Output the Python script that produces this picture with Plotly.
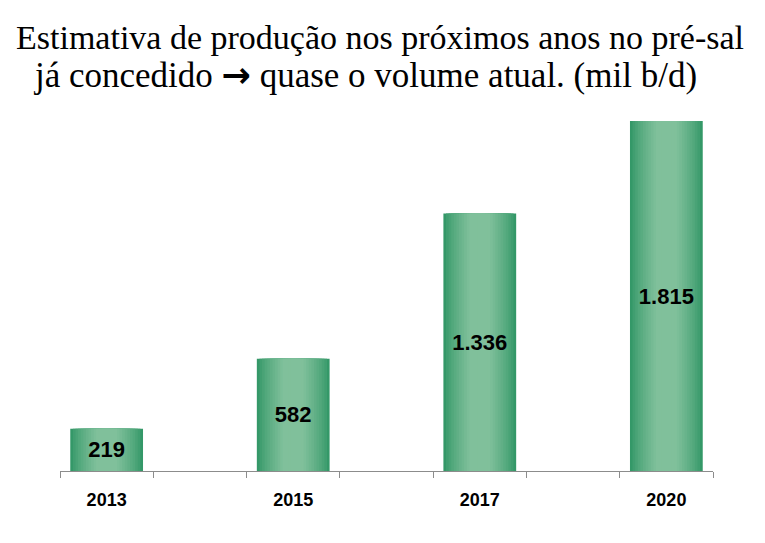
import plotly.graph_objects as go

# categories on the axis (empty slots keep the spacing between years)
slots = ["2013", " ", "2015", "  ", "2017", "   ", "2020"]
years = ["2013", "2015", "2017", "2020"]
production = [219, 582, 1336, 1815]
value_labels = ["219", "582", "1.336", "1.815"]

title_line1 = "Estimativa de produção nos próximos anos no pré-sal"
title_line2 = ("já concedido <span style='font-family:DejaVu Sans;font-weight:bold'>→</span>"
               " quase o volume atual. (mil b/d)")

dark = (52, 152, 104)
light = (128, 192, 155)


def mix(t):
    r, g, b = [round(d + (l - d) * t) for d, l in zip(dark, light)]
    return f"rgb({r},{g},{b})"


fig = go.Figure()

# fake a horizontal gradient by stacking narrower and lighter bars
n_layers = 14
bar_width = 0.78
for k in range(n_layers):
    p = k / (n_layers - 1)
    t = min(1.0, p / 0.75) ** 0.8
    fig.add_trace(go.Bar(
        x=years,
        y=production,
        width=bar_width * (1 - k / n_layers),
        marker=dict(color=mix(t), line=dict(width=0)),
        hoverinfo="skip",
        showlegend=False,
    ))

fig.add_trace(go.Bar(
    x=years,
    y=production,
    width=bar_width,
    marker=dict(color="rgba(0,0,0,0)", line=dict(width=0)),
    text=value_labels,
    textposition="inside",
    insidetextanchor="middle",
    constraintext="none",
    textfont=dict(family="Liberation Sans", size=22, color="black", weight="bold"),
    showlegend=False,
))

# page body adds 8px, so the margins are shifted by that
fig.update_layout(
    barmode="overlay",
    width=765,
    height=543,
    margin=dict(l=52, r=60, t=92, b=80),
    plot_bgcolor="white",
    paper_bgcolor="white",
    xaxis=dict(
        type="category",
        categoryorder="array",
        categoryarray=slots,
        tickson="boundaries",
        ticks="outside",
        ticklen=6,
        tickcolor="#8c8c8c",
        showline=True,
        linecolor="#8c8c8c",
        linewidth=1,
        ticklabelstandoff=12,
        tickfont=dict(family="Liberation Sans", size=18, color="black", weight="bold"),
        showgrid=False,
    ),
    yaxis=dict(range=[0, 1924], visible=False, showgrid=False),
)

# title lines placed in pixels
for line, cx, cy, size in [(title_line1, 380, 37, 34), (title_line2, 365, 75, 35)]:
    fig.add_annotation(
        text=line,
        x=(cx - 60) / 653,
        y=(471 - cy) / 371,
        xref="paper", yref="paper",
        xanchor="center", yanchor="middle",
        showarrow=False,
        borderpad=0,
        font=dict(family="Liberation Serif", size=size, color="black"),
    )

fig.write_html("out.html")
